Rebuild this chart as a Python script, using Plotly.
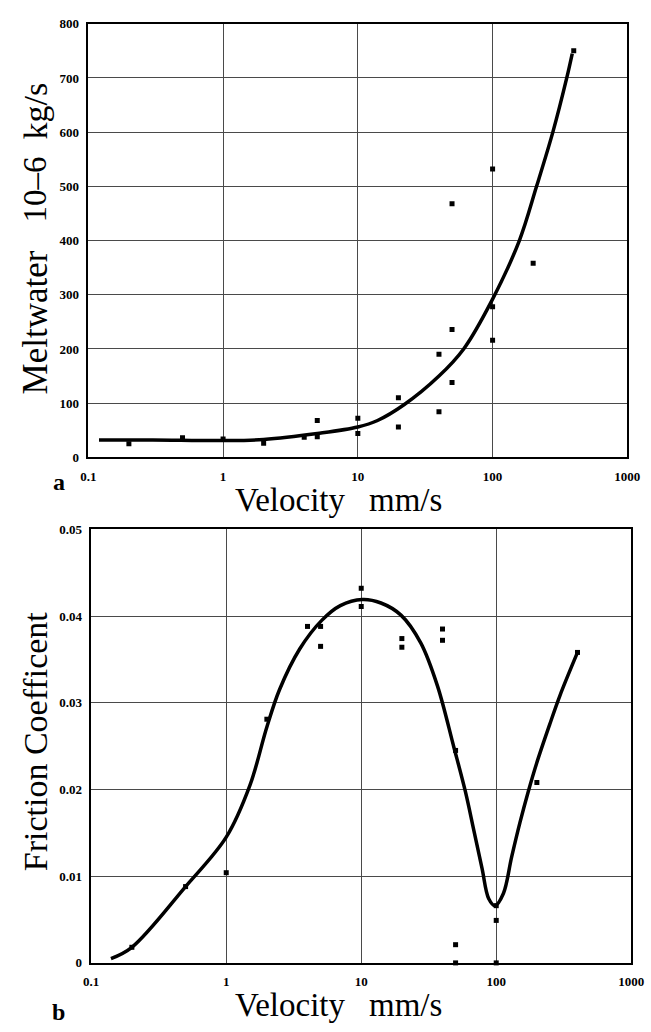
import plotly.graph_objects as go

# ---------------- Panel a: meltwater vs velocity ----------------
melt_pts_x = [0.2, 0.5, 1, 2, 4, 5, 5, 10, 10, 20, 20, 40, 40, 50, 50, 50, 100, 100, 100, 200, 400]
melt_pts_y = [25, 36, 34, 26, 37, 38, 68, 44, 72, 56, 110, 84, 190, 138, 236, 468, 216, 278, 532, 358, 750]

melt_fit_x = [0.12, 0.3, 1, 2, 5, 10, 14, 22, 40, 61, 100, 158, 212, 280, 355, 390]
melt_fit_y = [32, 32, 31, 33, 44, 56, 68, 97, 150, 200, 292, 400, 500, 600, 700, 745]

# ---------------- Panel b: friction coefficient vs velocity ----------------
fric_pts_x = [0.2, 0.5, 1, 2, 4, 5, 5, 10, 10, 20, 20, 40, 40, 50, 50, 50, 100, 100, 100, 200, 400]
fric_pts_y = [0.0018, 0.0088, 0.0104, 0.0281, 0.0388, 0.0388, 0.0365, 0.0432, 0.0411,
              0.0374, 0.0364, 0.0385, 0.0372, 0.0245, 0.0021, 0.0, 0.0066, 0.0049, 0.0,
              0.0208, 0.0358]

fric_fit_x = [0.14, 0.2, 0.5, 1, 1.5, 2, 2.48, 3.5, 5.1, 7, 10.2, 14, 19.7, 27.6, 36.6,
              48.5, 59, 68, 78.5, 88, 98, 113, 130, 150, 173, 199, 249, 296, 400]
fric_fit_y = [0.0005, 0.0018, 0.0088, 0.0145, 0.0205, 0.0272, 0.0315, 0.0362, 0.0395, 0.0412,
              0.0419, 0.0415, 0.0401, 0.0369, 0.032, 0.0249, 0.0198, 0.0154, 0.0109, 0.0074,
              0.0066, 0.0080, 0.0122, 0.0162, 0.0198, 0.0230, 0.0275, 0.0308, 0.0358]

x_tickvals = [0.1, 1, 10, 100, 1000]
x_ticktext = ["0.1", "1", "10", "100", "1000"]
melt_yticks = [0, 100, 200, 300, 400, 500, 600, 700, 800]
fric_yticks = [0, 0.01, 0.02, 0.03, 0.04, 0.05]
fric_yticktext = ["0", "0.01", "0.02", "0.03", "0.04", "0.05"]

W, H = 651, 1032
SERIF = "Liberation Serif"

fig = go.Figure()

fig.add_trace(go.Scatter(x=melt_fit_x, y=melt_fit_y, mode="lines",
                         line=dict(color="black", width=3.5, shape="spline", smoothing=1.0),
                         xaxis="x", yaxis="y", showlegend=False))
fig.add_trace(go.Scatter(x=melt_pts_x, y=melt_pts_y, mode="markers",
                         marker=dict(symbol="square", size=5, color="black"),
                         xaxis="x", yaxis="y", showlegend=False))
fig.add_trace(go.Scatter(x=fric_fit_x, y=fric_fit_y, mode="lines",
                         line=dict(color="black", width=3.5, shape="spline", smoothing=1.0),
                         xaxis="x2", yaxis="y2", showlegend=False))
fig.add_trace(go.Scatter(x=fric_pts_x, y=fric_pts_y, mode="markers",
                         marker=dict(symbol="square", size=5, color="black"),
                         xaxis="x2", yaxis="y2", showlegend=False, cliponaxis=False))

def px(x):
    return x / W

def py(y):
    return 1 - y / H

tickfont = dict(family=SERIF, size=13, color="black", weight="bold")
common_x = dict(type="log", range=[-1, 3], tickvals=x_tickvals, ticktext=x_ticktext,
                showgrid=True, gridcolor="#4a4a4a", gridwidth=1,
                showline=True, linecolor="black", linewidth=1.5, mirror=True,
                zeroline=False, ticks="", tickfont=tickfont, ticklabelstandoff=6,
                ticklabeloverflow="allow")
common_y = dict(showgrid=True, gridcolor="#4a4a4a", gridwidth=1,
                showline=True, linecolor="black", linewidth=1.5, mirror=True,
                zeroline=False, ticks="", tickfont=tickfont, ticklabelstandoff=5)

fig.update_layout(
    width=W, height=H,
    margin=dict(l=0, r=0, t=0, b=0),
    paper_bgcolor="white", plot_bgcolor="white",
    xaxis=dict(domain=[px(83), px(640)], anchor="y", **common_x),
    yaxis=dict(domain=[py(457), py(17)], anchor="x", range=[0, 800],
               tickvals=melt_yticks, **common_y),
    xaxis2=dict(domain=[px(86), px(644)], anchor="y2", **common_x),
    yaxis2=dict(domain=[py(970), py(530)], anchor="x2", range=[0, 0.05],
                tickvals=fric_yticks, ticktext=fric_yticktext, **common_y),
)

def label(text, x, y, size, angle=0, bold=False):
    t = f"<b>{text}</b>" if bold else text
    fig.add_annotation(text=t, x=px(x), y=py(y), xref="paper", yref="paper",
                       xanchor="center", yanchor="middle", showarrow=False,
                       textangle=angle, font=dict(family=SERIF, size=size, color="black"))

# Panel a titles
label("Velocity", 291, 500, 33)
label("mm/s", 411, 500, 33)
label("Meltwater", 28, 320, 35, angle=-90)
label("10–6", 28, 185, 33, angle=-90)
label("kg/s", 28, 106, 34, angle=-90)
label("a", 53, 482, 24, bold=True)

# Panel b titles
label("Velocity", 291, 1013, 33)
label("mm/s", 411, 1013, 33)
label("Friction Coefficent", 28, 745, 34, angle=-90)
label("b", 52, 1020, 24, bold=True)

fig.write_html("out.html", config={"displayModeBar": False},
               post_script="document.body.style.margin='0px';")
